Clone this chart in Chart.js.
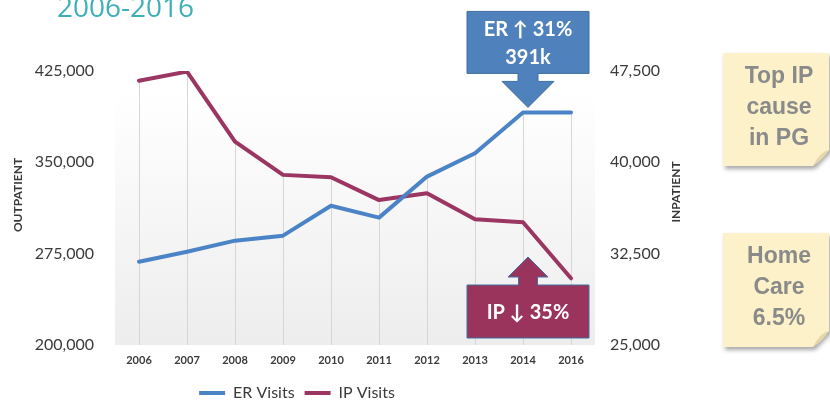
<!DOCTYPE html>
<html><head><meta charset="utf-8">
<script src="https://cdn.jsdelivr.net/npm/chart.js@4.4.0/dist/chart.umd.min.js"></script>
<style>html,body{margin:0;padding:0;background:#fff;overflow:hidden}#wrap{position:relative;width:830px;height:401px}</style>
</head><body><div id="wrap"><canvas id="c" width="830" height="401"></canvas></div>
<script>
const categories = ['2006','2007','2008','2009','2010','2011','2012','2013','2014','2016'];
const erVisits = [268400,276600,285700,289800,314400,304600,338300,357500,391000,391000];
const ipVisits = [46700,47450,41700,38970,38780,36900,37460,35330,35080,30480];
const leftTicks = [200000,275000,350000,425000];
const rightTicks = [25000,32500,40000,47500];
const titleText = '2006-2016';
const leftAxisTitle = 'OUTPATIENT';
const rightAxisTitle = 'INPATIENT';
const erCallout = ['ER \u2191 31%','391k'];
const ipCallout = ['IP \u2193 35%'];
const notes = [['Top IP','cause','in PG'],['Home','Care','6.5%']];

const ER_COLOR = '#4a84c6';
const IP_COLOR = '#9b3562';
const TXT = '#3a3a3a';
const fmt = v => Number(v).toLocaleString('en-US');

function arrowBox(ctx, cx, tipY, dir, o) {
  const headBase = tipY - dir * o.headLen;
  const boxEdge = headBase - dir * o.shaftLen;
  const boxFar = boxEdge - dir * o.boxH;
  ctx.beginPath();
  ctx.moveTo(cx - o.boxW / 2, boxFar);
  ctx.lineTo(cx + o.boxW / 2, boxFar);
  ctx.lineTo(cx + o.boxW / 2, boxEdge);
  ctx.lineTo(cx + o.shaftW / 2, boxEdge);
  ctx.lineTo(cx + o.shaftW / 2, headBase);
  ctx.lineTo(cx + o.headW / 2, headBase);
  ctx.lineTo(cx, tipY);
  ctx.lineTo(cx - o.headW / 2, headBase);
  ctx.lineTo(cx - o.shaftW / 2, headBase);
  ctx.lineTo(cx - o.shaftW / 2, boxEdge);
  ctx.lineTo(cx - o.boxW / 2, boxEdge);
  ctx.closePath();
  ctx.fillStyle = o.fill;
  ctx.fill();
  ctx.lineWidth = 1;
  ctx.strokeStyle = '#3f6f9f';
  ctx.stroke();
  const top = Math.min(boxFar, boxEdge);
  ctx.fillStyle = '#ffffff';
  ctx.font = 'bold 20px Lato, "Open Sans", sans-serif';
  ctx.textAlign = 'center';
  ctx.textBaseline = 'middle';
  const n = o.lines.length;
  const lh = 28;
  const startY = top + o.boxH / 2 - (n - 1) * lh / 2;
  o.lines.forEach((t, i) => ctx.fillText(t, cx, startY + i * lh + 1));
}

function stickyNote(ctx, x, y, w, h, lines) {
  ctx.save();
  ctx.shadowColor = 'rgba(0,0,0,0.35)';
  ctx.shadowBlur = 4;
  ctx.shadowOffsetX = 2;
  ctx.shadowOffsetY = 3;
  const f = 16;
  ctx.beginPath();
  ctx.moveTo(x, y);
  ctx.lineTo(x + w, y);
  ctx.lineTo(x + w, y + h - f);
  ctx.lineTo(x + w - f, y + h);
  ctx.lineTo(x, y + h);
  ctx.closePath();
  ctx.fillStyle = '#fcf1c9';
  ctx.fill();
  ctx.restore();
  ctx.beginPath();
  ctx.moveTo(x + w, y + h - f);
  ctx.quadraticCurveTo(x + w - f * 0.55, y + h - f * 0.9, x + w - f, y + h);
  ctx.quadraticCurveTo(x + w - f * 0.4, y + h - f * 0.35, x + w, y + h - f);
  ctx.fillStyle = '#e4d7ac';
  ctx.fill();
  ctx.fillStyle = '#8a8a8a';
  ctx.font = 'bold 23px "Liberation Sans", Arial, sans-serif';
  ctx.textAlign = 'center';
  ctx.textBaseline = 'middle';
  lines.forEach((t, i) => ctx.fillText(t, x + w / 2 + 3, y + 24 + i * 31));
}

const decor = {
  id: 'decor',
  afterLayout(chart) {
    const lg = chart.legend;
    const dx = -48, dy = 10;
    lg.left += dx; lg.right += dx; lg.top += dy; lg.bottom += dy;
  },
  beforeDatasetsDraw(chart) {
    const {ctx, chartArea: a, scales} = chart;
    ctx.save();
    const g = ctx.createLinearGradient(0, a.top, 0, a.bottom);
    g.addColorStop(0, '#ffffff');
    g.addColorStop(0.08, '#ffffff');
    g.addColorStop(1, '#ededed');
    ctx.fillStyle = g;
    ctx.fillRect(a.left, a.top, a.right - a.left, a.bottom - a.top);
    ctx.strokeStyle = '#d6d6d6';
    ctx.lineWidth = 1;
    categories.forEach((c, i) => {
      const x = Math.round(scales.x.getPixelForValue(i)) + 0.5;
      const top = Math.min(scales.y.getPixelForValue(erVisits[i]), scales.y1.getPixelForValue(ipVisits[i]));
      ctx.beginPath();
      ctx.moveTo(x, top);
      ctx.lineTo(x, a.bottom);
      ctx.stroke();
    });
    ctx.restore();
  },
  afterDraw(chart) {
    const {ctx, chartArea: a, scales} = chart;
    ctx.save();
    ctx.fillStyle = '#3fb0ba';
    ctx.font = '28px "Open Sans", sans-serif';
    ctx.textAlign = 'left';
    ctx.textBaseline = 'alphabetic';
    ctx.fillText(titleText, 57, 17);
    ctx.fillStyle = TXT;
    ctx.font = 'bold 12px Lato, sans-serif';
    ctx.textAlign = 'center';
    ctx.textBaseline = 'middle';
    [[leftAxisTitle, 18, 195], [rightAxisTitle, 676, 192]].forEach(([t, x, y]) => {
      ctx.save();
      ctx.translate(x, y);
      ctx.rotate(-Math.PI / 2);
      ctx.fillText(t, 0, 0);
      ctx.restore();
    });
    const last = categories.length - 2;
    const cx = scales.x.getPixelForValue(last) + 5;
    arrowBox(ctx, cx, scales.y.getPixelForValue(erVisits[last]) - 5, 1,
      {boxW: 122, boxH: 62, shaftW: 20, shaftLen: 8, headW: 52, headLen: 26, fill: '#4f81bd', lines: erCallout});
    arrowBox(ctx, cx, a.bottom - 7 - 53 - 8 - 20, -1,
      {boxW: 122, boxH: 53, shaftW: 19, shaftLen: 8, headW: 40, headLen: 20, fill: '#9b345d', lines: ipCallout});
    stickyNote(ctx, 723, 53, 106, 113, notes[0]);
    stickyNote(ctx, 723, 233, 106, 114, notes[1]);
    ctx.restore();
  }
};

new Chart(document.getElementById('c'), {
  type: 'line',
  data: {
    labels: categories,
    datasets: [
      {label: 'ER Visits', data: erVisits, yAxisID: 'y', borderColor: ER_COLOR, backgroundColor: ER_COLOR,
       borderWidth: 4, pointRadius: 0, pointStyle: 'line', tension: 0, borderCapStyle: 'round', borderJoinStyle: 'round'},
      {label: 'IP Visits', data: ipVisits, yAxisID: 'y1', borderColor: IP_COLOR, backgroundColor: IP_COLOR,
       borderWidth: 4, pointRadius: 0, pointStyle: 'line', tension: 0, borderCapStyle: 'round', borderJoinStyle: 'round'}
    ]
  },
  options: {
    responsive: false,
    animation: false,
    devicePixelRatio: 1,
    layout: {padding: {top: 71, left: 0, right: 140, bottom: 0}},
    plugins: {
      tooltip: {enabled: false},
      legend: {
        position: 'bottom',
        labels: {usePointStyle: true, pointStyle: 'line', pointStyleWidth: 26, padding: 10,
                 color: TXT, font: {family: 'Lato, sans-serif', size: 16}}
      }
    },
    scales: {
      x: {
        offset: true,
        grid: {display: false, drawTicks: false},
        border: {display: false},
        ticks: {color: TXT, font: {family: 'Lato, sans-serif', size: 11, weight: 'bold'}, padding: 9, maxRotation: 0, autoSkip: false},
        afterFit: s => { s.height = 20; }
      },
      y: {
        position: 'left', min: 200000, max: 425000,
        grid: {display: false, drawTicks: false},
        border: {display: false},
        afterBuildTicks: s => { s.ticks = leftTicks.map(v => ({value: v})); },
        ticks: {color: TXT, font: {family: 'Lato, sans-serif', size: 16}, padding: 21, callback: v => fmt(v)},
        afterFit: s => { s.width = 115; }
      },
      y1: {
        position: 'right', min: 25000, max: 47500,
        grid: {display: false, drawTicks: false},
        border: {display: false},
        afterBuildTicks: s => { s.ticks = rightTicks.map(v => ({value: v})); },
        ticks: {color: TXT, font: {family: 'Lato, sans-serif', size: 16}, padding: 15, callback: v => fmt(v)},
        afterFit: s => { s.width = 95; }
      }
    }
  },
  plugins: [decor]
});
</script>
</body></html>
